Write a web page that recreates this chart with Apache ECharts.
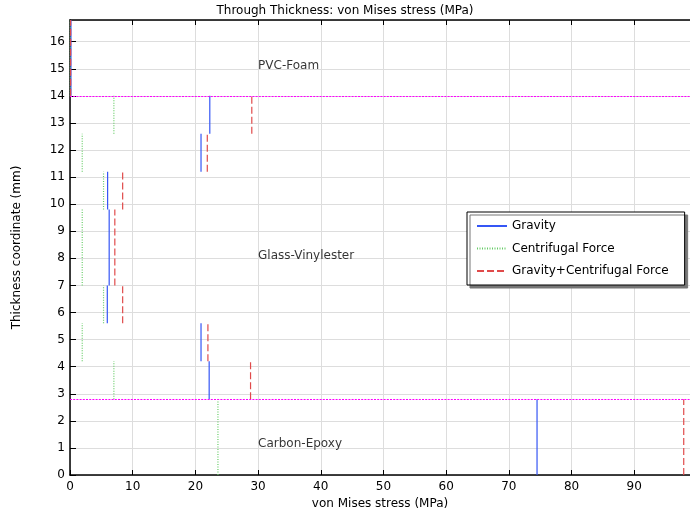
<!DOCTYPE html>
<html>
<head>
<meta charset="utf-8">
<script src="https://cdn.jsdelivr.net/npm/echarts@6/dist/echarts.min.js"></script>
<style>
  html, body { margin: 0; padding: 0; background: #fff; }
  #main { width: 690px; height: 511px; }
</style>
</head>
<body>
<div id="main"></div>
<script>
// layer interfaces through the laminate (mm), bottom to top
var layerBounds = [0, 2.8, 4.2, 5.6, 7.0, 9.8, 11.2, 12.6, 14.0, 16.8];
// von Mises stress per layer (MPa), same order as the intervals above
var gravity     = [74.5, 22.2, 20.9, 5.95, 6.25, 6.0, 20.9, 22.3, 0.15];
var centrifugal = [23.6, 7.0, 1.95, 5.35, 1.95, 5.35, 1.95, 7.0, 0.05];
var combined    = [97.9, 28.8, 22.0, 8.4, 7.15, 8.4, 21.9, 29.0, 0.1];
// material interfaces
var interfaces = [2.8, 14.0];
// material names and where they sit
var materials = ['Carbon-Epoxy', 'Glass-Vinylester', 'PVC-Foam'];
var materialPos = [[30, 1.15], [30, 8.1], [30, 15.12]];

var FONT = 'DejaVu Sans';

function segments(name, values, color, dash) {
  var out = [];
  for (var i = 0; i < values.length; i++) {
    out.push({
      name: name,
      type: 'line',
      symbol: 'none',
      silent: true,
      z: 3,
      lineStyle: { color: color, width: 1.2, type: dash },
      itemStyle: { color: color },
      data: [[values[i], layerBounds[i]], [values[i], layerBounds[i + 1]]]
    });
  }
  return out;
}

var series = [].concat(
  segments('Gravity', gravity, '#3556f5', 'solid'),
  segments('Centrifugal Force', centrifugal, '#66cc66', [1, 1.5]),
  segments('Gravity+Centrifugal Force', combined, '#e04a4a', [7, 3])
);

// interfaces drawn as dotted magenta lines
series.push({
  type: 'line',
  data: [],
  z: 4,
  markLine: {
    silent: true,
    symbol: ['none', 'none'],
    label: { show: false },
    lineStyle: { color: '#ff00ff', type: [2, 1.2], width: 1 },
    data: interfaces.map(function (y) { return { yAxis: y }; })
  }
});

// material labels
series.push({
  type: 'scatter',
  symbolSize: 0,
  silent: true,
  data: materials.map(function (m, i) {
    return { name: m, value: materialPos[i] };
  }),
  label: {
    show: true,
    position: 'right',
    distance: 0,
    formatter: '{b}',
    color: '#000',
    fontFamily: FONT,
    fontSize: 12
  }
});

var chart = echarts.init(document.getElementById('main'));
chart.setOption({
  animation: false,
  title: {
    text: 'Through Thickness: von Mises stress (MPa)',
    left: 'center',
    top: 0,
    textStyle: { fontFamily: FONT, fontSize: 12, fontWeight: 'normal', color: '#000' }
  },
  legend: {
    data: ['Gravity', 'Centrifugal Force', 'Gravity+Centrifugal Force'],
    orient: 'vertical',
    left: 467,
    top: 212,
    padding: [8, 16, 8, 9],
    itemWidth: 30,
    itemHeight: 10,
    itemGap: 10.5,
    itemStyle: { opacity: 0 },
    backgroundColor: '#fff',
    borderColor: '#000',
    borderWidth: 1,
    borderRadius: 0,
    shadowColor: '#777',
    shadowOffsetX: 3,
    shadowOffsetY: 3,
    shadowBlur: 0,
    textStyle: { fontFamily: FONT, fontSize: 12, color: '#000' }
  },
  grid: { left: 70, right: 0, top: 20, bottom: 36, outerBoundsMode: 'none', containLabel: false },
  xAxis: [{
    type: 'value',
    min: 0,
    max: 98.9,
    interval: 10,
    name: 'von Mises stress (MPa)',
    nameLocation: 'middle',
    nameGap: 14,
    nameTextStyle: { fontFamily: FONT, fontSize: 12, color: '#000' },
    axisLine: { show: true, lineStyle: { color: '#000', width: 1.5 } },
    axisTick: { show: true, inside: true, length: 5, lineStyle: { color: '#000' } },
    axisLabel: { fontFamily: FONT, fontSize: 12, color: '#000', margin: 6, showMaxLabel: false },
    splitLine: { show: true, lineStyle: { color: '#dddddd', width: 1 } }
  }, {
    type: 'value',
    position: 'top',
    min: 0,
    max: 98.9,
    interval: 10,
    axisLine: { show: true, lineStyle: { color: '#000', width: 1.5 } },
    axisTick: { show: true, inside: true, length: 5, lineStyle: { color: '#000' } },
    axisLabel: { show: false },
    splitLine: { show: false }
  }],
  yAxis: {
    type: 'value',
    min: 0,
    max: 16.8,
    interval: 1,
    name: 'Thickness coordinate (mm)',
    nameLocation: 'middle',
    nameGap: 47,
    nameTextStyle: { fontFamily: FONT, fontSize: 12, color: '#000' },
    axisLine: { show: true, lineStyle: { color: '#000', width: 1.5 } },
    axisTick: { show: true, inside: true, length: 6, lineStyle: { color: '#000' } },
    axisLabel: { fontFamily: FONT, fontSize: 12, color: '#000', margin: 5, showMaxLabel: false },
    splitLine: { show: true, lineStyle: { color: '#dddddd', width: 1 } }
  },
  series: series
});
</script>
</body>
</html>
